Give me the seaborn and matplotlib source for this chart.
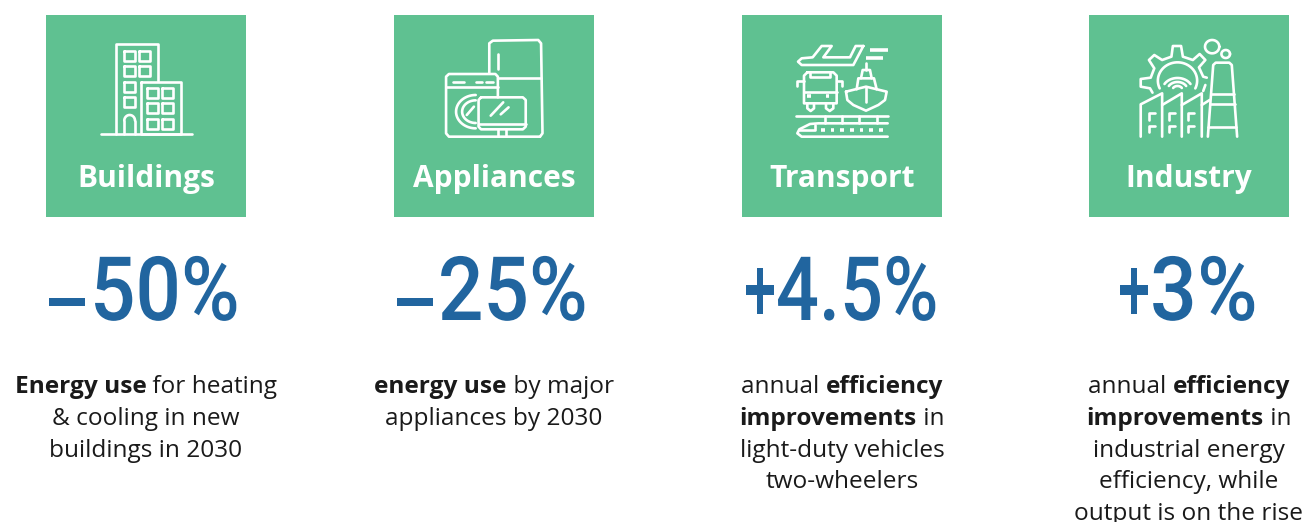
import matplotlib
matplotlib.use("Agg")
import matplotlib.pyplot as plt
from matplotlib.patheffects import AbstractPathEffect
from matplotlib.transforms import Affine2D
import seaborn as sns
import numpy as np

# ── Data ──────────────────────────────────────────────────────
sectors = ["Buildings", "Appliances", "Transport", "Industry"]
signs = ["\u2013", "\u2013", "+", "+"]
figures = ["50%", "25%", "4.5%", "3%"]
# text runs per line: (text, bold)
notes = [
    [[("Energy use", 1), (" for heating", 0)], [("& cooling in new", 0)], [("buildings in 2030", 0)]],
    [[("energy use", 1), (" by major", 0)], [("appliances by 2030", 0)]],
    [[("annual ", 0), ("efficiency", 1)], [("improvements", 1), (" in", 0)],
     [("light-duty vehicles", 0)], [("two-wheelers", 0)]],
    [[("annual ", 0), ("efficiency", 1)], [("improvements", 1), (" in", 0)],
     [("industrial energy", 0)], [("efficiency, while", 0)], [("output is on the rise", 0)]],
]
tile_centres = [146, 494, 842, 1189]
tile_heights = [202, 202, 202, 202]
sign_drop = [13, 13, 0, 0]
sign_sx = [0.82, 0.82, 0.65, 0.65]
figure_left = [90, 438, 776, 1150]
figure_sx = [0.9, 0.9, 0.85, 0.93]

GREEN = "#5FC191"
BLUE = "#21659F"
INK = "#1A1A1A"
BODY_FONT = "Open Sans"
NUM_FONT = ["Roboto", "DejaVu Sans"]
LW = 1.9

sns.set_theme(style="white")
plt.rcParams["font.family"] = [BODY_FONT, "DejaVu Sans"]

fig = plt.figure(figsize=(13.03, 5.22), dpi=100)
ax = fig.add_axes([0, 0, 1, 1])

# ── Tiles ─────────────────────────────────────────────────────
sns.barplot(x=tile_centres, y=tile_heights, native_scale=True, color=GREEN, saturation=1,
            width=200 / 347, bottom=15, linewidth=0, ax=ax)
ax.set_xlim(0, 1303)
ax.set_ylim(522, 0)
ax.axis("off")


def poly(origin, pts, lw=LW, closed=False, cap="round"):
    pts = np.array(pts, dtype=float)
    if closed:
        pts = np.vstack([pts, pts[:1]])
    ax.plot(origin[0] + pts[:, 0] / origin[2], origin[1] + pts[:, 1] / 3, color="white", lw=lw,
            solid_capstyle=cap, solid_joinstyle="round")


def box(origin, x0, y0, x1, y1, lw=LW):
    poly(origin, [(x0, y0), (x1, y0), (x1, y1), (x0, y1)], lw=lw, closed=True)


def arc(origin, cx, cy, rx, ry, a0, a1, lw=LW):
    t = np.radians(np.linspace(a0, a1, 40))
    poly(origin, np.column_stack([cx + rx * np.cos(t), cy - ry * np.sin(t)]), lw=lw)


L = (40, 10, 2.8)
R = (740, 10, 2.8)
T = (790, 40, 3)

# buildings
poly(L, [(214, 372), (214, 103), (329, 103), (329, 213)])
box(L, 283, 215, 395, 372)
poly(L, [(170, 373), (425, 373)])
for cx, cy in [(250, 137), (293, 137), (250, 183), (293, 183), (250, 230), (250, 277)]:
    box(L, cx - 15, cy - 15, cx + 15, cy + 15)
for cx in (315, 357):
    for cy in (249, 295, 341):
        box(L, cx - 15, cy - 15, cx + 15, cy + 15)
poly(L, [(236, 372), (236, 332)])
poly(L, [(266, 372), (266, 332)])
arc(L, 251, 332, 15, 17, 0, 180)

# appliances
poly(L, [(1258, 190), (1258, 100), (1268, 92), (1395, 90), (1403, 100), (1407, 370), (1400, 380)])
poly(L, [(1283, 205), (1403, 205)])
poly(L, [(1283, 132), (1283, 178)])
poly(L, [(1282, 262), (1282, 200), (1275, 192), (1145, 192), (1137, 200), (1137, 370), (1145, 380), (1400, 380)])
poly(L, [(1137, 230), (1282, 230)])
poly(L, [(1155, 215), (1187, 215)])
poly(L, [(1220, 215), (1238, 215)])
poly(L, [(1250, 215), (1267, 215)])
arc(L, 1220, 305, 55, 50, 90, 270)
arc(L, 1220, 305, 38, 34, 90, 270)
poly(L, [(1195, 315), (1215, 290)])
poly(L, [(1235, 262), (1352, 262), (1360, 270), (1360, 350), (1352, 358), (1235, 358), (1228, 350), (1228, 270)], closed=True)
poly(L, [(1228, 342), (1360, 342)])
poly(L, [(1282, 358), (1282, 378)])
poly(L, [(1305, 358), (1305, 378)])
poly(L, [(1262, 317), (1297, 277)])
poly(L, [(1290, 313), (1312, 292)])

# transport
poly(T, [(220, 18), (197, 18), (180, 52), (100, 52), (125, 18), (95, 18), (68, 52), (35, 55),
         (24, 65), (35, 75), (190, 75)], closed=True)
poly(T, [(240, 30), (293, 30)], lw=2.6, cap="butt")
poly(T, [(228, 53), (278, 53)], lw=2.6, cap="butt")
poly(T, [(52, 97), (130, 97), (140, 107), (140, 190), (42, 190), (42, 107)], closed=True)
poly(T, [(42, 155), (140, 155)])
poly(T, [(60, 97), (60, 110), (120, 110), (120, 97)])
poly(T, [(20, 138), (20, 122), (42, 122)])
poly(T, [(140, 122), (155, 122), (155, 138)])
poly(T, [(52, 167), (62, 167)], lw=2.6, cap="butt")
poly(T, [(107, 167), (117, 167)], lw=2.6, cap="butt")
poly(T, [(52, 190), (52, 205), (62, 213), (72, 205), (72, 190)])
poly(T, [(108, 190), (108, 205), (119, 213), (130, 205), (130, 190)])
poly(T, [(168, 155), (228, 140), (290, 155), (285, 180), (265, 195), (228, 212), (190, 195), (172, 180)], closed=True)
poly(T, [(228, 140), (228, 185)])
poly(T, [(200, 148), (205, 115), (252, 115), (260, 148)])
poly(T, [(213, 115), (218, 90), (240, 90), (245, 115)])
poly(T, [(228, 68), (228, 90)])
poly(T, [(18, 228), (293, 228)])
for x in (105, 157, 208, 260):
    poly(T, [(x, 228), (x, 250)])
poly(T, [(293, 290), (35, 290), (22, 280), (28, 268), (60, 252), (85, 250), (293, 250)])
poly(T, [(28, 270), (75, 270), (75, 256)])
for x in np.arange(93, 290, 29):
    poly(T, [(x, 270), (x + 11, 270)], lw=2.6, cap="butt")

# industry
poly(R, [(1155, 248), (1148, 235), (1122, 230), (1122, 207), (1150, 203), (1160, 175), (1145, 150),
         (1160, 135), (1182, 150), (1208, 140), (1212, 108), (1235, 108), (1240, 140), (1268, 150),
         (1287, 132), (1303, 150), (1285, 172), (1297, 200), (1307, 203)])
arc(R, 1225, 212, 55, 55, -25, 205)
arc(R, 1225, 240, 14, 12, 30, 150)
arc(R, 1225, 240, 28, 24, 30, 150)
arc(R, 1225, 240, 42, 36, 30, 150)
poly(R, [(1297, 243), (1303, 225)])
arc(R, 1322, 110, 20, 20, 0, 360)
arc(R, 1360, 132, 12, 12, 0, 360)
poly(R, [(1310, 380), (1325, 165), (1332, 158), (1370, 158), (1377, 165), (1392, 380)])
poly(R, [(1318, 252), (1382, 252)])
poly(R, [(1315, 282), (1385, 282)])
poly(R, [(1310, 352), (1390, 352)])
poly(R, [(1122, 380), (1122, 283), (1182, 250), (1182, 380)])
poly(R, [(1182, 285), (1237, 250), (1237, 380)])
poly(R, [(1237, 285), (1293, 250), (1293, 380)])
poly(R, [(1293, 285), (1315, 270)])
for dx in (0, 55, 110):
    poly(R, [(1145 + dx, 330), (1145 + dx, 308), (1162 + dx, 308)])
    poly(R, [(1145 + dx, 365), (1145 + dx, 348), (1162 + dx, 348)])


# ── Text ──────────────────────────────────────────────────────
class Squeeze(AbstractPathEffect):
    # no condensed face installed, so narrow the glyph outlines around an anchor x
    def __init__(self, x_px, sx):
        super().__init__()
        self.x_px = x_px
        self.sx = sx

    def draw_path(self, renderer, gc, tpath, affine, rgbFace=None):
        squeeze = Affine2D().translate(-self.x_px, 0).scale(self.sx, 1).translate(self.x_px, 0)
        renderer.draw_path(gc, tpath, affine + squeeze, rgbFace)


renderer = fig.canvas.get_renderer()


def draw_line(runs, cx, baseline, size):
    pieces = [ax.text(0, baseline, t.replace(" ", "\u00a0"), fontsize=size, color=INK, va="baseline",
                      ha="left", fontweight="bold" if b else "normal") for t, b in runs]
    widths = [renderer.get_text_width_height_descent(p.get_text(), p.get_fontproperties(), False)[0]
              for p in pieces]
    x = cx - sum(widths) / 2
    for p, w in zip(pieces, widths):
        p.set_x(x)
        x += w


for i, (cx, name, note) in enumerate(zip(tile_centres, sectors, notes)):
    ax.text(cx, 187, name, ha="center", va="baseline", color="white", fontsize=21.5, fontweight="bold")
    ax.text(figure_left[i], 320 + sign_drop[i], signs[i], ha="right", va="baseline", color=BLUE, fontsize=64,
            fontweight=500, family=NUM_FONT, path_effects=[Squeeze(figure_left[i], sign_sx[i])])
    ax.text(figure_left[i], 320, figures[i], ha="left", va="baseline", color=BLUE, fontsize=64,
            fontweight=500, family=NUM_FONT, path_effects=[Squeeze(figure_left[i], figure_sx[i])])
    for j, runs in enumerate(note):
        draw_line(runs, cx, 393 + j * 31.8, 17.6)

fig.savefig("out.png", dpi=100)
